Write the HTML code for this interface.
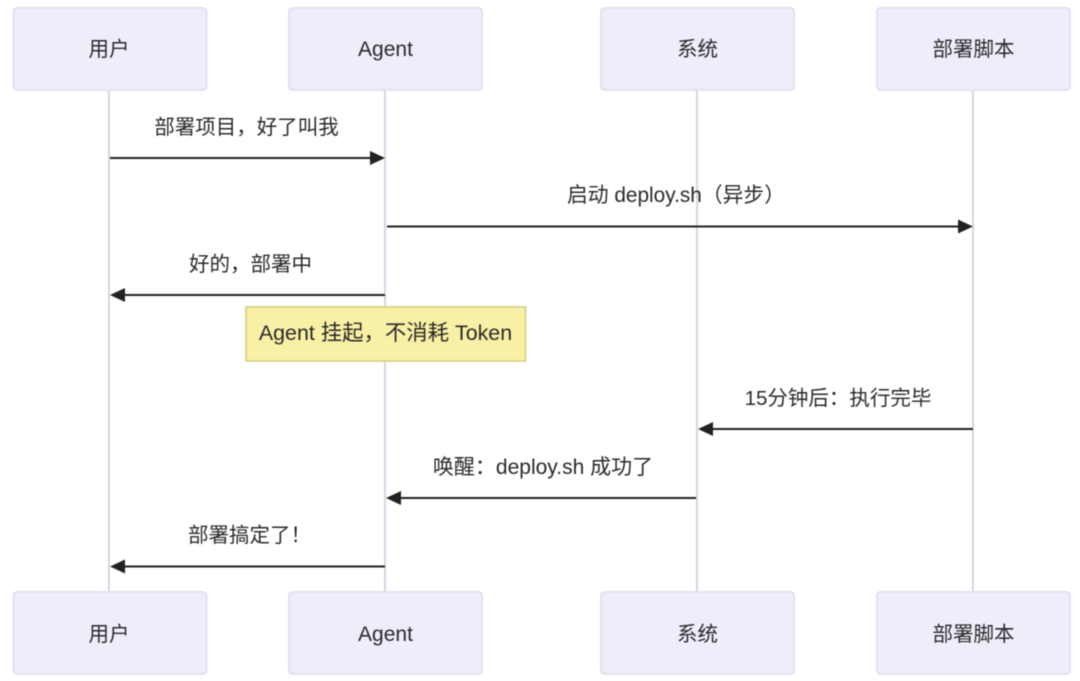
<!DOCTYPE html>
<html><head><meta charset="utf-8"><style>
html,body{margin:0;padding:0;background:#fff;width:1080px;height:681px;overflow:hidden}
svg{display:block;filter:blur(.45px)}
text{font-family:"Liberation Sans","Noto Sans CJK SC",sans-serif;font-size:20.500px;fill:#2a2a2a;text-anchor:middle}
.t{font-size:21px}
.b{fill:#eeeefb;stroke:#dcdcec;stroke-width:1.5}
.l{stroke:#d6d6e4;stroke-width:2}
.m{stroke:#222;stroke-width:2}
.h{fill:#222}
</style></head><body>
<svg width="1080" height="681" viewBox="0 0 1080 681" xmlns="http://www.w3.org/2000/svg">
<line class="l" x1="109" y1="90" x2="109" y2="592"/>
<line class="l" x1="385" y1="90" x2="385" y2="592"/>
<line class="l" x1="697" y1="90" x2="697" y2="592"/>
<line class="l" x1="973" y1="90" x2="973" y2="592"/>

<rect class="b" x="13.500" y="8" width="193" height="82" rx="3"/>
<rect class="b" x="289" y="8" width="193" height="82" rx="3"/>
<rect class="b" x="601" y="8" width="193" height="82" rx="3"/>
<rect class="b" x="877" y="8" width="193" height="82" rx="3"/>
<text x="109" y="56">用户</text><text class="t" x="385.500" y="56">Agent</text><text x="697.500" y="56">系统</text><text x="973.500" y="56">部署脚本</text>

<rect class="b" x="13.500" y="592" width="193" height="82" rx="3"/>
<rect class="b" x="289" y="592" width="193" height="82" rx="3"/>
<rect class="b" x="601" y="592" width="193" height="82" rx="3"/>
<rect class="b" x="877" y="592" width="193" height="82" rx="3"/>
<text x="109" y="641">用户</text><text class="t" x="385.500" y="641">Agent</text><text x="697.500" y="641">系统</text><text x="973.500" y="641">部署脚本</text>

<text x="246.500" y="134">部署项目，好了叫我</text>
<line class="m" x1="110" y1="158" x2="372" y2="158"/><polygon class="h" points="370,151 385,158 370,165"/>

<text style="font-size:20.800px" x="676" y="202">启动 deploy.sh（异步）</text>
<line class="m" x1="387" y1="226.500" x2="960" y2="226.500"/><polygon class="h" points="958,219.500 973,226.500 958,233.500"/>

<text x="250.500" y="271">好的，部署中</text>
<line class="m" x1="123" y1="295" x2="385" y2="295"/><polygon class="h" points="125,288 110,295 125,302"/>

<rect x="246" y="307" width="279.500" height="54" fill="#f8f0a4" stroke="#cfcf7c" stroke-width="1.500"/>
<text style="font-size:21.400px" x="385.500" y="340">Agent 挂起，不消耗 Token</text>

<text x="838" y="405">15分钟后：执行完毕</text>
<line class="m" x1="711" y1="429" x2="973" y2="429"/><polygon class="h" points="713,422 698,429 713,436"/>

<text class="t" x="543" y="474">唤醒：deploy.sh 成功了</text>
<line class="m" x1="399" y1="498" x2="696" y2="498"/><polygon class="h" points="401,491 386,498 401,505"/>

<text x="249.500" y="542">部署搞定了！</text>
<line class="m" x1="123" y1="566.500" x2="385" y2="566.500"/><polygon class="h" points="125,559.500 110,566.500 125,573.500"/>
</svg>
</body></html>
